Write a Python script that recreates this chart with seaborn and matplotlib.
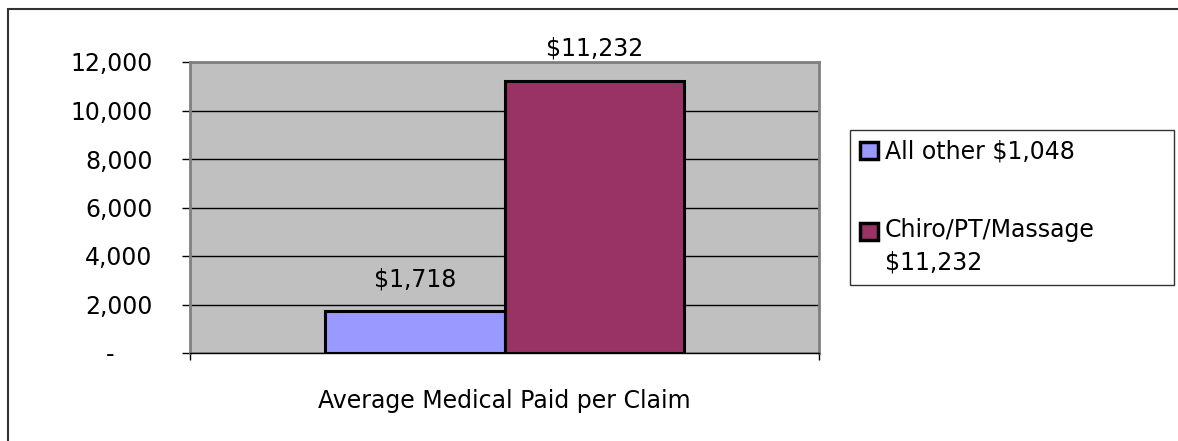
import matplotlib
matplotlib.use("Agg")
import matplotlib.pyplot as plt
import seaborn as sns
import pandas as pd
from matplotlib.patches import Rectangle, Patch
from matplotlib.legend_handler import HandlerPatch

category = ["Average Medical Paid per Claim"]
series = ["All other $1,048", "Chiro/PT/Massage\n$11,232"]
values = [1718, 11232]
bar_labels = ["$1,718", "$11,232"]
yticks = [0, 2000, 4000, 6000, 8000, 10000, 12000]
ytick_labels = ["-     ", "2,000", "4,000", "6,000", "8,000", "10,000", "12,000"]
colors = ["#9999FF", "#993366"]

df = pd.DataFrame({"cat": category * len(series), "series": series, "value": values})

sns.set_style("white")
plt.rcParams["font.family"] = ["DejaVu Sans"]
plt.rcParams["text.color"] = "black"
plt.rcParams["xtick.color"] = "black"
plt.rcParams["ytick.color"] = "black"
plt.rcParams["axes.labelcolor"] = "black"

FS = 17
W, H = 1178, 441
fig = plt.figure(figsize=(W / 100, H / 100), dpi=100)
ax = fig.add_axes([190 / W, 1 - 353 / H, 629 / W, 291 / H])

sns.barplot(data=df, x="cat", y="value", hue="series", palette=colors,
            saturation=1, width=0.57, ax=ax, edgecolor="black",
            linewidth=2.2, legend=False, zorder=3)

ax.set_facecolor("#C0C0C0")
ax.set_xlim(-0.5, 0.5)
ax.set_ylim(0, 12000)
ax.set_yticks(yticks)
ax.set_yticklabels(ytick_labels, fontsize=FS)
ax.yaxis.grid(True, color="black", linewidth=1)
ax.set_axisbelow(True)
ax.set_xticks([-0.5, 0.5])
ax.set_xticklabels(["", ""])
ax.tick_params(axis="y", direction="out", length=6, width=1, color="black", pad=21, left=True)
ax.tick_params(axis="x", direction="out", length=5, width=1, color="black", bottom=True)
ax.set_xlabel(category[0], fontsize=FS, labelpad=17.5)
ax.set_ylabel("")

for s in ["top", "right", "left"]:
    ax.spines[s].set_color("#808080")
    ax.spines[s].set_linewidth(2)
ax.spines["bottom"].set_color("black")
ax.spines["bottom"].set_linewidth(1)

for cont, lab in zip(ax.containers, bar_labels):
    for bar in cont:
        ax.annotate(lab, (bar.get_x() + bar.get_width() / 2, bar.get_height()),
                    xytext=(0, 23), textcoords="offset points", ha="center",
                    va="center", fontsize=FS, annotation_clip=False)


def make_handler(shift):
    def patch_func(legend, orig_handle, xdescent, ydescent, width, height, fontsize):
        return Rectangle((-xdescent, -ydescent + shift), width, height)
    return HandlerPatch(patch_func=patch_func)


handles = [Patch(facecolor=c, edgecolor="black", linewidth=2.5) for c in colors]
leg = fig.legend(handles, series, loc="upper left",
                 bbox_to_anchor=(850 / W, 1 - 285 / H, 324 / W, 155 / H),
                 mode="expand", fontsize=FS,
                 frameon=True, fancybox=False, edgecolor="black",
                 handlelength=0.75, handleheight=0.75, handletextpad=0.3,
                 labelspacing=2.3, borderpad=0.42, borderaxespad=0,
                 handler_map={handles[0]: make_handler(0),
                              handles[1]: make_handler(11.5)})
leg.get_frame().set_linewidth(1)
for t in leg.get_texts():
    t.set_linespacing(1.45)

fig.patches.append(Rectangle((8 / W, -0.1), 1.2, 1 - 9 / H + 0.1,
                             transform=fig.transFigure, fill=False,
                             edgecolor="#333333", linewidth=1.5))

fig.savefig("out.png", dpi=100, facecolor="white")
